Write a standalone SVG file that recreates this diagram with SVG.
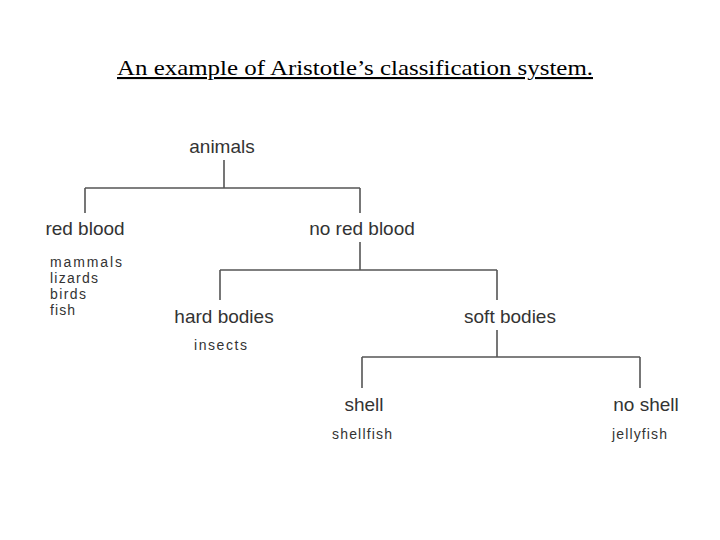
<svg xmlns="http://www.w3.org/2000/svg" width="720" height="540" viewBox="0 0 720 540">
<style>
.t{font-family:"Liberation Serif","DejaVu Serif",serif;font-size:21px;fill:#000}
.n{font-family:"Liberation Sans",Arial,sans-serif;font-size:19px;fill:#333}
.s{font-family:"Liberation Sans",Arial,sans-serif;font-size:14px;fill:#333}
.c{stroke:#555;stroke-width:1.6;fill:none}
</style>
<rect width="720" height="540" fill="#fff"/>
<text class="t" x="117" y="75" textLength="476" lengthAdjust="spacingAndGlyphs" text-decoration="underline">An example of Aristotle’s classification system.</text>
<g id="connectors">
<path class="c" d="M224 160V188M85 188H360M85 188V213M360 188V213"/>
<path class="c" d="M360 242V270M220 270H497M220 270V300M497 270V300"/>
<path class="c" d="M497 330V357M362 357H640M362 357V388M640 357V388"/>
</g>
<g id="animals"><text class="n" x="222" y="153" text-anchor="middle">animals</text></g>
<g id="red-blood"><text class="n" x="85" y="235" text-anchor="middle">red blood</text>
<text class="s" x="50" y="267" textLength="72">mammals</text><text class="s" x="50" y="283" textLength="48">lizards</text><text class="s" x="50" y="299" textLength="36">birds</text><text class="s" x="50" y="315" textLength="25">fish</text></g>
<g id="no-red-blood"><text class="n" x="362" y="235" text-anchor="middle">no red blood</text></g>
<g id="hard-bodies"><text class="n" x="224" y="323" text-anchor="middle">hard bodies</text>
<text class="s" x="194" y="350" textLength="53">insects</text></g>
<g id="soft-bodies"><text class="n" x="510" y="323" text-anchor="middle">soft bodies</text></g>
<g id="shell"><text class="n" x="364" y="411" text-anchor="middle">shell</text>
<text class="s" x="332" y="439" textLength="60">shellfish</text></g>
<g id="no-shell"><text class="n" x="646" y="411" text-anchor="middle">no shell</text>
<text class="s" x="612" y="439" textLength="55">jellyfish</text></g>
</svg>
